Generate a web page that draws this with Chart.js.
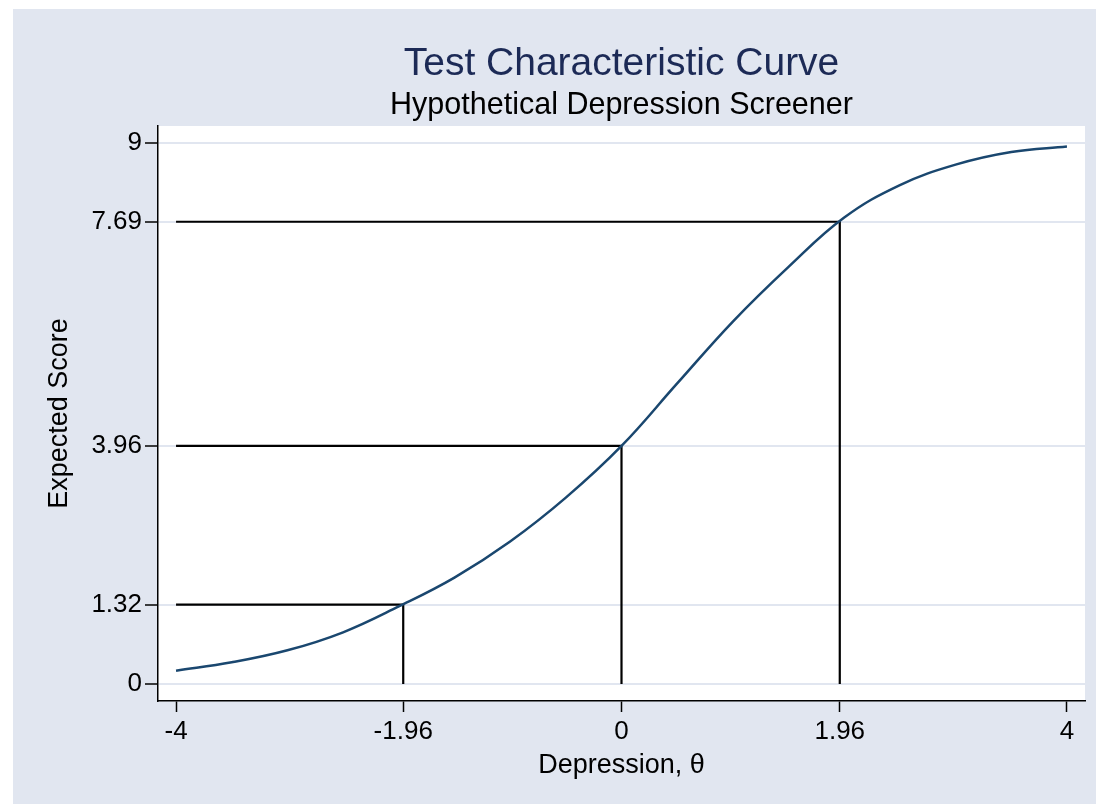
<!DOCTYPE html>
<html>
<head>
<meta charset="utf-8">
<script src="https://cdn.jsdelivr.net/npm/chart.js@4/dist/chart.umd.min.js"></script>
<style>
  html, body { margin: 0; padding: 0; background: #fff; }
  #wrap { position: absolute; left: 13px; top: 9px; width: 1083px; height: 795px; background: #e1e6f0; }
  canvas { display: block; }
</style>
</head>
<body>
<div id="wrap"><canvas id="tcc" width="1083" height="795"></canvas></div>
<script>
// curve
const theta = [-4, -3.5, -3, -2.5, -2, -1.5, -1, -0.5, 0, 0.5, 1, 1.5, 2, 2.5, 3, 3.5, 4];
const score = [0.22, 0.36, 0.56, 0.86, 1.29, 1.77, 2.37, 3.10, 3.96, 5.00, 6.03, 6.94, 7.76, 8.30, 8.64, 8.85, 8.94];

// cut points with their drop lines
const cutTheta = [-1.96, 0, 1.96];
const cutScore = [1.32, 3.96, 7.69];

const xTicks = [-4, -1.96, 0, 1.96, 4];
const xTickLabels = ['-4', '-1.96', '0', '1.96', '4'];
const yTicks = [0, 1.32, 3.96, 7.69, 9];
const yTickLabels = ['0', '1.32', '3.96', '7.69', '9'];

const titleText = 'Test Characteristic Curve';
const subtitleText = 'Hypothetical Depression Screener';

const FONT = '"Liberation Sans", Arial, Helvetica, sans-serif';

const curve = {
  data: theta.map((t, i) => ({ x: t, y: score[i] })),
  borderColor: '#1a476f', borderWidth: 2.5, pointRadius: 0,
  showLine: true, tension: 0.4, order: 0
};
const drops = cutTheta.map((t, i) => ({
  data: [{ x: xTicks[0], y: cutScore[i] }, { x: t, y: cutScore[i] }, { x: t, y: yTicks[0] }],
  borderColor: '#000', borderWidth: 2.2, pointRadius: 0, showLine: true, tension: 0, order: 1
}));

const titles = {
  id: 'titles',
  afterDraw(chart) {
    const { ctx, chartArea } = chart;
    const cx = (chartArea.left + chartArea.right) / 2;
    ctx.save();
    ctx.textAlign = 'center';
    ctx.textBaseline = 'alphabetic';
    ctx.fillStyle = '#1c2a56';
    ctx.font = '39px ' + FONT;
    ctx.fillText(titleText, cx, 66);
    ctx.fillStyle = '#000';
    ctx.font = '30.5px ' + FONT;
    ctx.fillText(subtitleText, cx, 105);
    ctx.restore();
  }
};

const plotBg = {
  id: 'plotBg',
  beforeDraw(chart) {
    const { ctx, chartArea: a } = chart;
    ctx.save();
    ctx.fillStyle = '#fff';
    ctx.fillRect(a.left, a.top, a.right - a.left, a.bottom - a.top);
    ctx.restore();
  }
};

new Chart(document.getElementById('tcc'), {
  type: 'scatter',
  data: { datasets: [curve, ...drops] },
  plugins: [plotBg, titles],
  options: {
    responsive: false,
    animation: false,
    layout: { padding: { left: 0, right: 11, top: 117, bottom: 0 } },
    plugins: { legend: { display: false }, tooltip: { enabled: false } },
    scales: {
      x: {
        type: 'linear', min: -4.162, max: 4.162,
        afterBuildTicks: s => { s.ticks = xTicks.map(v => ({ value: v })); },
        afterFit: s => { s.height = 103; },
        ticks: { color: '#000', font: { family: FONT, size: 26 }, padding: 4,
                 maxRotation: 0, autoSkip: false,
                 callback: (v, i) => xTickLabels[i] },
        grid: { drawOnChartArea: false, tickColor: '#000', tickLength: 11, tickWidth: 1.5 },
        border: { color: '#000', width: 1.5 },
        title: { display: true, text: 'Depression, θ', color: '#000',
                 font: { family: FONT, size: 27 }, padding: { top: 0, bottom: 22 } }
      },
      y: {
        type: 'linear', min: -0.283, max: 9.283,
        afterBuildTicks: s => { s.ticks = yTicks.map(v => ({ value: v })); },
        afterFit: s => { s.width = 145; },
        ticks: { color: '#000', font: { family: FONT, size: 26 }, padding: 3,
                 autoSkip: false,
                 callback: (v, i) => yTickLabels[i] },
        grid: { color: '#e1e6f0', lineWidth: 2, tickColor: '#000', tickLength: 13, tickWidth: 1.5 },
        border: { color: '#000', width: 1.5 },
        title: { display: true, text: 'Expected Score', color: '#000',
                 font: { family: FONT, size: 27 }, padding: { top: 30, bottom: 0 } }
      }
    }
  }
});
</script>
</body>
</html>
